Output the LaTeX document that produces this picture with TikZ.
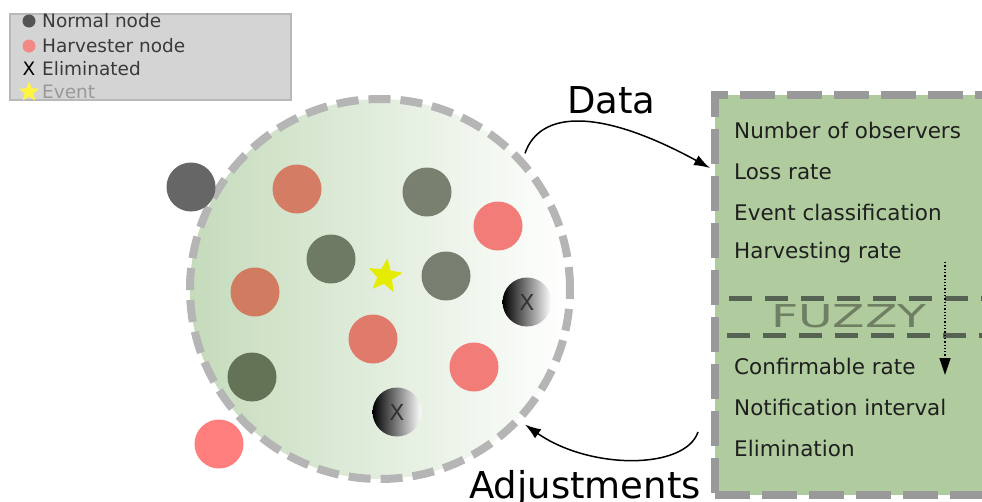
\documentclass[tikz,border=0pt]{standalone}
\usepackage{fontspec}
\setmainfont{DejaVu Sans}
\usetikzlibrary{shapes.geometric,arrows.meta,calc}
\definecolor{legfill}{HTML}{D4D4D4}
\definecolor{legdraw}{HTML}{B8B8B8}
\definecolor{legtext}{HTML}{3A3A3A}
\definecolor{ringgray}{HTML}{B5B5B5}
\definecolor{ringgreen}{HTML}{C5DBBB}
\definecolor{boxgray}{HTML}{999999}
\definecolor{boxgreen}{HTML}{B0CC9E}
\definecolor{fuzzline}{HTML}{566352}
\definecolor{fuzztext}{HTML}{6F7F63}
\definecolor{cdark}{HTML}{666666}
\definecolor{corange}{HTML}{D47C64}
\definecolor{corange2}{HTML}{D17C60}
\definecolor{cgreygreen}{HTML}{7A8070}
\definecolor{cgreygreen2}{HTML}{787E70}
\definecolor{cdkgreen}{HTML}{6E7A64}
\definecolor{cdkgreen2}{HTML}{647256}
\definecolor{cpink}{HTML}{F27C78}
\definecolor{csalmon}{HTML}{E07A6A}
\definecolor{cpinkout}{HTML}{FF7F7F}
\definecolor{cstar}{HTML}{E6EC00}
\begin{document}
\begin{tikzpicture}[x=1pt,y=-1pt,
  pnode/.style={circle, minimum size=49pt, inner sep=0pt, outer sep=0pt},
  elim/.style={pnode, left color=black, right color=white, text=black!80,
    font=\fontsize{22}{24}\selectfont},
  item/.style={anchor=base west, inner sep=0pt, text=black!88,
    font=\fontsize{21.5}{26}\selectfont},
  legtxt/.style={anchor=west, inner sep=0pt, text=legtext,
    font=\fontsize{18.5}{22}\selectfont},
  bigtxt/.style={inner sep=0pt, anchor=base west, font=\fontsize{37}{42}\selectfont},
  flow/.style={line width=1.5pt, -{Latex[length=16pt,width=11pt]}}]
\useasboundingbox (0,0) rectangle (982,501);
\clip (0,0) rectangle (982,501);

% legend
\node[draw=legdraw, fill=legfill, line width=2pt, rectangle, inner sep=0pt,
  minimum width=281pt, minimum height=86pt, anchor=north west, outer sep=0pt]
  (legend) at (10,14) {};
\node[circle, fill=black!67, minimum size=13pt, inner sep=0pt] (lnormal) at (29,21) {};
\node[legtxt] (tnormal) at (42,21) {Normal node};
\node[circle, fill=cpink!90!white, minimum size=13pt, inner sep=0pt] (lharv) at (29,46) {};
\node[legtxt] (tharv) at (42,46) {Harvester node};
\node[inner sep=0pt, font=\fontsize{18.5}{22}\selectfont] (lelim) at (29,69) {X};
\node[legtxt] (telim) at (42,69) {Eliminated};
\node[star, star points=5, star point ratio=2.3, fill=yellow!75!white, minimum size=21pt,
  inner sep=0pt] (lstar) at (29,92) {};
\node[legtxt, text=black!40] (tevent) at (42,92) {Event};

% right parameter box
\node[rectangle, draw=boxgray, fill=boxgreen, line width=8pt,
  dash pattern=on 35pt off 12pt, minimum width=300pt, minimum height=400pt,
  anchor=north west, outer sep=0pt, inner sep=0pt] (params) at (715,95) {};
\node[item] (i1) at (734,138) {Number of observers};
\node[item] (i2) at (734,179) {Loss rate};
\node[item] (i3) at (734,220) {Event classification};
\node[item] (i4) at (734,258) {Harvesting rate};
\node[item] (i5) at (734,374) {Confirmable rate};
\node[item] (i6) at (734,415) {Notification interval};
\node[item] (i7) at (734,456) {Elimination};

% fuzzy band
\coordinate (f1a) at (729,298);
\coordinate (f1b) at (990,298);
\coordinate (f2a) at (727,335);
\coordinate (f2b) at (990,335);
\draw[fuzzline, line width=5pt, dash pattern=on 23pt off 13pt] (f1a) -- (f1b);
\draw[fuzzline, line width=5pt, dash pattern=on 23pt off 13pt] (f2a) -- (f2b);
\node[text=fuzztext, inner sep=0pt] (fuzzy) at (849,316)
  {\fontsize{31.5}{34}\selectfont\scalebox{1.5}[1]{FUZZY}};
\coordinate (dtop) at (945,262);
\coordinate (dbot) at (945,375);
\draw[line width=1.3pt, dotted, -{Triangle[length=17pt,width=11pt]}] (dtop) -- (dbot);

% network
\node[circle, minimum size=380pt, inner sep=0pt, outer sep=0pt, draw=ringgray,
  line width=8pt, dash pattern=on 22pt off 10pt,
  left color=ringgreen, right color=white] (net) at (380,289) {};

\node[pnode, fill=cdark] (n1) at (191,187) {};
\node[pnode, fill=corange] (n2) at (297,189) {};
\node[pnode, fill=cgreygreen] (n3) at (427,192) {};
\node[pnode, fill=cpink] (n4) at (498,226) {};
\node[pnode, fill=cdkgreen] (n5) at (331,259) {};
\node[pnode, fill=cgreygreen2] (n6) at (446,276) {};
\node[elim] (x1) at (527,302) {X};
\node[pnode, fill=corange2] (n7) at (255,292) {};
\node[pnode, fill=csalmon] (n8) at (373,339) {};
\node[pnode, fill=cpink] (n9) at (474,367) {};
\node[pnode, fill=cdkgreen2] (n10) at (252,377) {};
\node[elim] (x2) at (397,412) {X};
\node[pnode, fill=cpinkout] (n11) at (219,444) {};
\node[star, star points=5, star point ratio=2.3, fill=cstar, minimum size=36pt,
  inner sep=0pt, rotate=-8] (event) at (385,276) {};

% flows
\node[bigtxt] (data) at (567,113) {Data};
\node[bigtxt] (adj) at (469,498) {Adjustments};
\coordinate (dataend) at (710,168);
\coordinate (adjstart) at (698,432);
\draw[flow] ([shift={(6,-6)}]net.43) .. controls (540,110) and (600,108) .. (dataend);
\draw[flow] (adjstart) .. controls (685,470) and (590,470) .. ([shift={(6,6)}]net.-43);
\end{tikzpicture}
\end{document}
